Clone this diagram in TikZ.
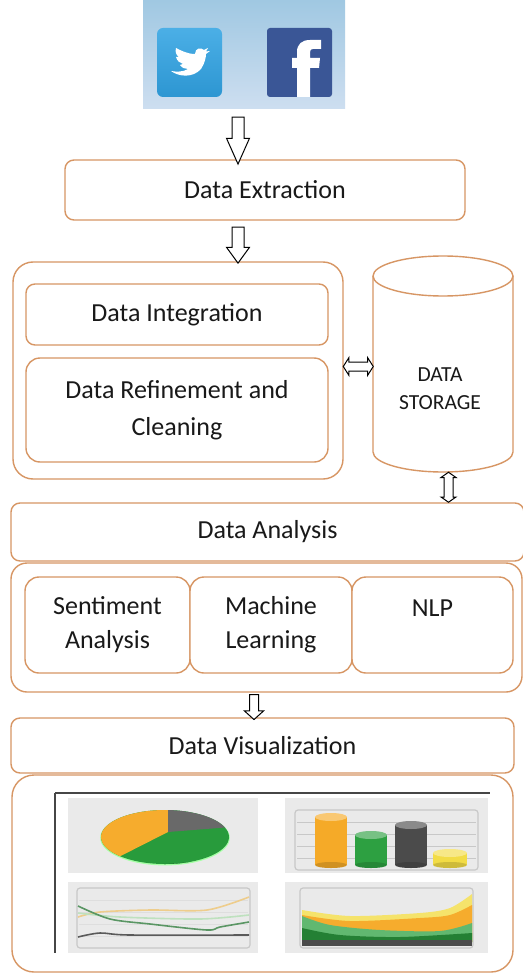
\documentclass[tikz,border=0pt]{standalone}
\usepackage{fontspec}
\setmainfont{Carlito}
\usetikzlibrary{shapes.arrows,calc}

\definecolor{bord}{RGB}{215,150,100}
\definecolor{hdrtop}{RGB}{160,200,226}
\definecolor{hdrbot}{RGB}{205,222,240}
\definecolor{twtop}{RGB}{75,175,230}
\definecolor{twbot}{RGB}{45,150,210}
\definecolor{fbblue}{RGB}{58,86,150}
\definecolor{panel}{RGB}{234,234,234}
\definecolor{axisc}{RGB}{70,70,70}
\definecolor{gridc}{RGB}{200,200,200}
\definecolor{pieorange}{RGB}{246,172,45}
\definecolor{piegreen}{RGB}{40,155,60}
\definecolor{piegray}{RGB}{105,105,105}
\definecolor{baror}{RGB}{245,170,40}
\definecolor{bargreen}{RGB}{45,160,65}
\definecolor{bardark}{RGB}{75,75,75}
\definecolor{baryel}{RGB}{242,220,70}
\definecolor{lineor}{RGB}{238,205,140}
\definecolor{linegr}{RGB}{90,150,100}
\definecolor{linepale}{RGB}{190,225,190}
\definecolor{linedk}{RGB}{90,90,90}
\definecolor{txt}{RGB}{25,25,25}

\newcommand\labfont{\fontsize{26}{36}\selectfont}

\begin{document}
\begin{tikzpicture}[x=1pt,y=-1pt,
  obox/.style={draw=bord, line width=1.4pt, fill=white, rounded corners=#1,
    inner sep=0pt, align=center, font=\labfont, text=txt},
  obox/.default=9pt,
  downarrow/.style={single arrow, draw=black, line width=1pt, fill=white,
    shape border rotate=270, inner sep=5.5pt, minimum width=22pt,
    single arrow head extend=5.5pt, single arrow tip angle=#1},
  downarrow/.default=60,
  vdouble/.style={double arrow, draw=black, line width=1pt, fill=white,
    shape border rotate=90, inner sep=4pt, minimum width=14pt,
    double arrow head extend=3pt, double arrow tip angle=110},
  hdouble/.style={double arrow, draw=black, line width=1pt, fill=white,
    inner sep=4pt, minimum width=17pt,
    double arrow head extend=4.5pt, double arrow tip angle=115},
  chartframe/.style={draw=gridc, line width=1.2pt, rounded corners=3pt}]

\useasboundingbox (0,0) rectangle (522,976);
\fill[white] (0,0) rectangle (522,976);

% ---------- social media header ----------
\node[top color=hdrtop, bottom color=hdrbot, minimum width=202pt,
  minimum height=108pt, inner sep=0pt, anchor=north west] (social) at (143,0) {};
\shade[top color=twtop, bottom color=twbot, rounded corners=6pt]
  (157,28) rectangle (222,97);
\fill[white, shift={(171,47)}]
  (0,24) .. controls (8,30) and (22,31) .. (30,22)
  .. controls (34,16) and (35,10) .. (35,7)
  -- (39,4) -- (35,4.5) -- (37,1) -- (33,3)
  .. controls (30,0) and (24,1) .. (24,7)
  .. controls (16,7) and (9,3) .. (5,1)
  .. controls (4,5) and (5,8) .. (8,10)
  -- (5,10) .. controls (6,14) and (9,16) .. (12,17)
  -- (9,18) .. controls (11,21) and (14,22) .. (17,22)
  .. controls (12,25) and (6,25) .. cycle;
\fill[fbblue, rounded corners=3pt] (267,28) rectangle (332,97);
\fill[white] (297,97) -- (297,68) -- (292,68) -- (292,58) -- (297,58) -- (297,52)
  .. controls (297,44) and (302,40) .. (310,40) -- (321,40) -- (321,49) -- (313,49)
  .. controls (311,49) and (310,50) .. (310,52) -- (310,58) -- (320,58)
  -- (319,68) -- (310,68) -- (310,97) -- cycle;

% ---------- extraction ----------
\node[obox, minimum width=400pt, minimum height=60pt] (extract) at (265,190) {Data Extraction};

% ---------- preprocessing group ----------
\node[obox=20pt, minimum width=330pt, minimum height=217pt] (group) at (178,370.5) {};
\node[obox, minimum width=302pt, minimum height=61pt] (integ) at (177,314.5) {Data Integration};
\node[obox=14pt, minimum width=302pt, minimum height=104pt,
  font=\fontsize{26}{37}\selectfont] (refine) at (177,410) {Data Refinement and\\Cleaning};

% ---------- storage cylinder ----------
\node[minimum width=140pt, minimum height=216pt, inner sep=0pt] (store) at (443,364) {};
\filldraw[fill=white, draw=bord, line width=1.4pt]
  (373,276) -- (373,452)
  .. controls (373,463.05) and (404.34,472) .. (443,472)
  .. controls (481.66,472) and (513,463.05) .. (513,452) -- (513,276);
\draw[draw=bord, line width=1.4pt, fill=white] (443,276) ellipse[x radius=70pt, y radius=20pt];
\node[align=center, text=txt, font=\fontsize{21.5}{28}\selectfont] (storetxt) at (440,389) {DATA\\STORAGE};

% ---------- analysis ----------
\node[obox, minimum width=513pt, minimum height=58pt] (analysis) at (267.5,532) {Data Analysis};
\node[obox=16pt, minimum width=511pt, minimum height=129pt] (subgroup) at (266.5,627.5) {};
\node[obox=14pt, minimum width=165pt, minimum height=96pt,
  font=\fontsize{26}{34}\selectfont] (senti) at (107.5,625) {Sentiment\\Analysis};
\node[obox=14pt, minimum width=162pt, minimum height=96pt,
  font=\fontsize{26}{34}\selectfont] (mach) at (271,625) {Machine\\Learning};
\node[obox=14pt, minimum width=161pt, minimum height=96pt,
  font=\fontsize{26}{34}\selectfont] (nlp) at (432.5,625) {NLP\\\mbox{}};

% ---------- visualization ----------
\node[obox, minimum width=503pt, minimum height=55pt] (visual) at (262.5,745.5) {Data Visualization};
\node[obox=22pt, minimum width=501pt, minimum height=197pt] (charts) at (262.5,873.5) {};

% ---------- connectors ----------
\coordinate (colA) at (238,0);
\coordinate (colB) at (254,0);
\coordinate (colC) at (448.5,0);
\coordinate (rowA) at (0,366.5);
\node[downarrow=48, minimum height=47pt] (ar1)
  at ($(social.south -| colA)!0.5!(extract.north -| colA)$) {};
\node[downarrow=72, minimum height=36pt, minimum width=21pt] (ar2)
  at ($(extract.south -| colA)!0.5!(group.north -| colA)$) {};
\node[downarrow=96, inner sep=4pt, minimum height=25pt, minimum width=18pt,
  single arrow head extend=5pt] (ar3)
  at ($(subgroup.south -| colB)!0.5!(visual.north -| colB)$) {};
\node[hdouble, minimum height=30pt] (dar1)
  at ($(group.east |- rowA)!0.5!(store.west |- rowA)$) {};
\node[vdouble, minimum height=30pt] (dar2)
  at ($(store.south -| colC)!0.5!(analysis.north -| colC)$) {};

% ---------- dashboard pictures ----------
\fill[panel] (68,798) rectangle (258,873);
\fill[panel] (285,798) rectangle (488,873);
\fill[panel] (68,882) rectangle (258,953);
\fill[panel] (285,882) rectangle (488,953);
\draw[axisc, line width=2.2pt] (55,793) -- (55,953);
\draw[axisc, line width=1.6pt] (55,793) -- (490,793);

% pie
\fill[green!35!white] (165,837.8) ellipse[x radius=64.8pt, y radius=27.6pt];
\begin{scope}
  \clip (165,837) ellipse[x radius=64pt, y radius=27pt];
  \fill[piegreen] (95,805) rectangle (235,870);
  \fill[piegreen!75!black] (95,858) .. controls (140,868) and (200,866) .. (235,850) -- (235,870) -- (95,870) -- cycle;
  \fill[pieorange] (168,832) -- (168,805) -- (95,805) -- (95,869) -- cycle;
  \fill[piegray] (168,832) -- (168,805) -- (235,805) -- (235,826.7) -- cycle;
\end{scope}

% bars
\draw[chartframe] (295,810) rectangle (478,870);
\foreach \yy in {822,834,846,858}
  \draw[gridc, line width=0.7pt] (297,\yy) -- (476,\yy);
\foreach \xa/\xb/\yt/\cc in {315/347/817/baror, 355/387/835/bargreen,
                             395/427/825/bardark, 433/467/853/baryel} {
  \pgfmathsetmacro\xm{(\xa+\xb)/2}
  \pgfmathsetmacro\rx{(\xb-\xa)/2}
  \fill[\cc] (\xa,\yt) rectangle (\xb,865);
  \fill[\cc!85!black] (\xm,865) ellipse[x radius=\rx pt, y radius=3pt];
  \fill[\cc!65!white] (\xm,\yt) ellipse[x radius=\rx pt, y radius=4pt];
}

% lines
\draw[chartframe] (77,888) rectangle (250,948);
\foreach \yy in {900,912,924,936}
  \draw[gridc!60, line width=0.6pt] (79,\yy) -- (248,\yy);
\draw[lineor, line width=1.6pt] plot[smooth] coordinates
  {(78,917) (100,912) (150,910) (207,910) (249,897)};
\draw[linepale, line width=1.6pt] plot[smooth] coordinates
  {(78,913) (120,917) (200,919) (249,915)};
\draw[linegr, line width=1.6pt] plot[smooth] coordinates
  {(78,906) (110,919) (150,924) (207,930) (220,927) (249,922)};
\draw[linedk, line width=1.6pt] plot[smooth] coordinates
  {(78,937) (100,933) (130,935) (249,935)};

% stacked areas
\draw[chartframe] (300,888) rectangle (473,948);
\fill[baryel!80!white] plot[smooth] coordinates
  {(302,910) (350,916) (420,913) (450,908) (472,894)} -- (472,942) -- (302,942) -- cycle;
\fill[pieorange] plot[smooth] coordinates
  {(302,915) (350,921) (420,918) (450,915) (472,905)} -- (472,942) -- (302,942) -- cycle;
\fill[bargreen!75!white] plot[smooth] coordinates
  {(302,916) (330,925) (380,930) (440,931) (472,923)} -- (472,942) -- (302,942) -- cycle;
\fill[bargreen!80!black] plot[smooth] coordinates
  {(302,928) (340,935) (400,937) (472,933)} -- (472,942) -- (302,942) -- cycle;
\fill[bardark] (302,940) rectangle (472,946);

\end{tikzpicture}
\end{document}
